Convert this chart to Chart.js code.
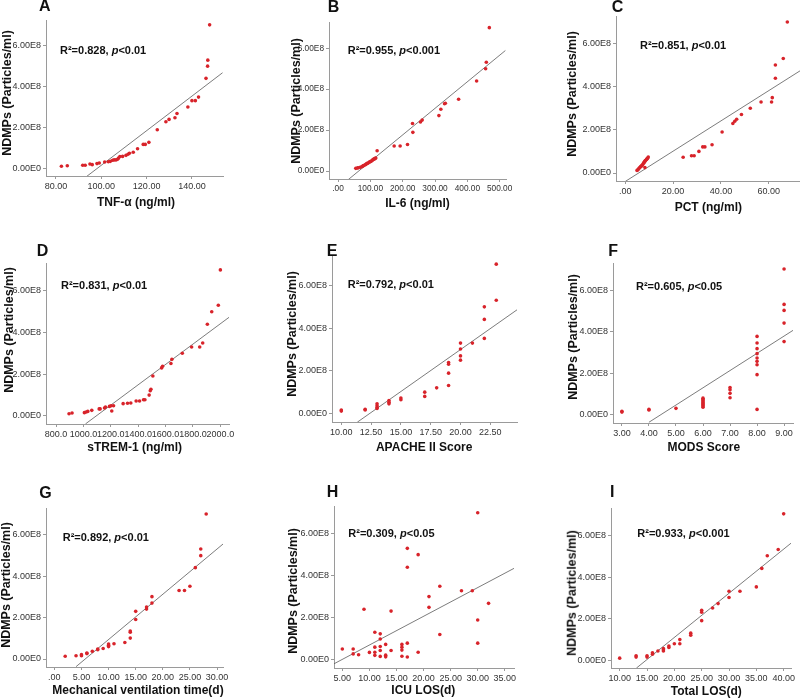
<!DOCTYPE html>
<html><head><meta charset="utf-8">
<script src="https://cdn.jsdelivr.net/npm/chart.js@4.4.1/dist/chart.umd.min.js"></script>
<style>
html,body{margin:0;padding:0;background:#fff;width:800px;height:700px;overflow:hidden;position:relative;font-family:"Liberation Sans",Arial,sans-serif;}
canvas{position:absolute;}
.t{position:absolute;white-space:nowrap;color:#111;font-weight:bold;line-height:1;z-index:5;}
.letter{font-size:16px;transform:translateY(-50%);}
.r2{font-size:11px;transform:translateY(-50%);}
.xt{font-size:12px;transform:translate(-50%,-50%);}
.yt{font-size:12.5px;transform:translate(-50%,-50%) rotate(-90deg);}
</style></head><body>
<script>
// ---------- data (NDMPs in units of 1E8 particles/ml) ----------
const yTicks = [0, 2, 4, 6];
const yTickLabels = ['0.00E0', '2.00E8', '4.00E8', '6.00E8'];

// A: TNF-alpha
const tnfX = [82.4, 85.0, 91.8, 92.9, 95.0, 96.0, 98.1, 99.1, 101.5, 103.1, 104.0, 105.0, 105.7, 106.5, 107.2, 107.6, 108.2, 109.4, 110.9, 111.8, 112.4, 114.1, 116.0, 118.5, 119.4, 121.0, 124.7, 128.5, 129.9, 132.5, 133.4, 138.2, 140.0, 141.5, 142.9, 146.2, 146.9, 147.0, 147.8];
const tnfY = [0.13, 0.16, 0.18, 0.18, 0.24, 0.21, 0.26, 0.29, 0.34, 0.35, 0.37, 0.42, 0.44, 0.44, 0.47, 0.53, 0.60, 0.61, 0.66, 0.71, 0.76, 0.81, 0.98, 1.19, 1.19, 1.29, 1.90, 2.29, 2.40, 2.48, 2.69, 3.00, 3.31, 3.31, 3.48, 4.39, 4.98, 5.27, 6.98];
const tnfLine = [[93.2, -0.39], [153.5, 4.66]];
const tnfTicks = [80, 100, 120, 140];
const tnfTickLabels = ['80.00', '100.00', '120.00', '140.00'];

// B: IL-6
const il6X = [54.8, 59.9, 62.0, 68.2, 73.3, 76.4, 78.5, 80.6, 84.7, 86.0, 88.8, 91.0, 93.0, 97.1, 99.0, 101.2, 105.4, 107.5, 109.5, 111.5, 113.6, 115.0, 116.7, 120.9, 173.6, 192.1, 214.9, 230.4, 231.4, 255.0, 260.3, 312.0, 318.0, 329.5, 332.0, 373.0, 428.7, 456.6, 458.7, 468.0];
const il6Y = [0.13, 0.15, 0.16, 0.18, 0.21, 0.24, 0.26, 0.28, 0.31, 0.33, 0.36, 0.38, 0.39, 0.44, 0.45, 0.47, 0.51, 0.55, 0.57, 0.59, 0.60, 0.62, 0.64, 0.99, 1.22, 1.22, 1.30, 2.32, 1.89, 2.40, 2.49, 2.71, 3.02, 3.29, 3.31, 3.51, 4.40, 5.00, 5.32, 7.01];
const il6Line = [[30, -0.44], [517.6, 5.89]];
const il6Ticks = [0, 100, 200, 300, 400, 500];
const il6TickLabels = ['.00', '100.00', '200.00', '300.00', '400.00', '500.00'];

// C: PCT
const pctX = [4.9, 5.3, 5.6, 5.9, 6.3, 6.5, 6.7, 7.0, 7.1, 7.4, 7.7, 7.8, 8.1, 8.2, 8.3, 8.5, 8.9, 9.1, 9.3, 9.6, 24.2, 27.7, 28.8, 30.8, 32.4, 33.3, 36.3, 40.5, 45.0, 45.8, 46.6, 48.6, 52.3, 56.8, 61.2, 61.5, 62.8, 62.8, 66.1, 67.8];
const pctY = [0.12, 0.15, 0.20, 0.24, 0.28, 0.30, 0.32, 0.35, 0.37, 0.42, 0.46, 0.48, 0.53, 0.25, 0.56, 0.59, 0.63, 0.66, 0.68, 0.74, 0.73, 0.80, 0.80, 1.00, 1.21, 1.21, 1.31, 1.90, 2.29, 2.40, 2.49, 2.71, 3.00, 3.29, 3.29, 3.49, 4.39, 5.00, 5.30, 6.99];
const pctLine = [[0, -0.39], [73.1, 4.73]];
const pctTicks = [0, 20, 40, 60];
const pctTickLabels = ['.00', '20.00', '40.00', '60.00'];

// D: sTREM-1
const stremX = [895, 917, 1007, 1020, 1032, 1061, 1115, 1122, 1154, 1161, 1190, 1202, 1207, 1220, 1290, 1322, 1346, 1385, 1410, 1439, 1449, 1480, 1488, 1493, 1507, 1571, 1578, 1639, 1646, 1722, 1790, 1849, 1871, 1905, 1937, 1985, 2000];
const stremY = [0.11, 0.14, 0.16, 0.19, 0.22, 0.27, 0.34, 0.34, 0.38, 0.43, 0.46, 0.49, 0.24, 0.49, 0.59, 0.61, 0.62, 0.72, 0.72, 0.78, 0.78, 1.00, 1.21, 1.28, 1.91, 2.30, 2.38, 2.51, 2.71, 3.00, 3.30, 3.30, 3.49, 4.39, 4.99, 5.30, 6.99];
const stremLine = [[1015, -0.38], [2063, 4.72]];
const stremTicks = [800, 1000, 1200, 1400, 1600, 1800, 2000];
const stremTickLabels = ['800.0', '1000.0', '1200.0', '1400.0', '1600.0', '1800.0', '2000.0'];

// E: APACHE II
const apacheX = [10, 10, 12, 12, 13, 13, 13, 13, 14, 14, 14, 15, 15, 17, 17, 18, 19, 19, 19, 19, 20, 20, 20, 20, 21, 22, 22, 22, 23, 23];
const apacheY = [0.16, 0.11, 0.20, 0.16, 0.45, 0.36, 0.28, 0.23, 0.61, 0.53, 0.45, 0.72, 0.64, 1.00, 0.80, 1.20, 2.39, 2.31, 1.89, 1.31, 3.30, 3.02, 2.70, 2.50, 3.30, 5.00, 4.41, 3.52, 5.31, 7.00];
const apacheLine = [[11.34, -0.41], [24.74, 4.86]];
const apacheTicks = [10, 12.5, 15, 17.5, 20, 22.5];
const apacheTickLabels = ['10.00', '12.50', '15.00', '17.50', '20.00', '22.50'];

// F: MODS
const modsX = [3, 3, 4, 4, 5, 6, 6, 6, 6, 6, 6, 6, 6, 6, 7, 7, 7, 7, 8, 8, 8, 8, 8, 8, 8, 8, 8, 9, 9, 9, 9, 9];
const modsY = [0.18, 0.14, 0.27, 0.24, 0.32, 0.37, 0.43, 0.48, 0.53, 0.58, 0.63, 0.69, 0.75, 0.81, 1.32, 1.22, 1.04, 0.83, 3.78, 3.46, 3.19, 2.95, 2.74, 2.58, 2.42, 1.94, 0.27, 7.02, 5.32, 5.03, 4.42, 3.53];
const modsLine = [[4.0, -0.35], [9.33, 4.07]];
const modsTicks = [3, 4, 5, 6, 7, 8, 9];
const modsTickLabels = ['3.00', '4.00', '5.00', '6.00', '7.00', '8.00', '9.00'];

// G: Mechanical ventilation time
const mvX = [2, 4, 5, 5, 6, 6, 7, 8, 8, 9, 10, 10, 10, 11, 13, 14, 14, 14, 15, 15, 17, 17, 18, 18, 23, 24, 25, 26, 27, 27, 28];
const mvY = [0.13, 0.16, 0.21, 0.16, 0.26, 0.29, 0.37, 0.48, 0.45, 0.51, 0.66, 0.72, 0.60, 0.74, 0.80, 1.01, 1.29, 1.35, 1.91, 2.30, 2.41, 2.51, 2.70, 3.01, 3.31, 3.31, 3.51, 4.41, 4.99, 5.31, 7.00];
const mvLine = [[4.0, -0.37], [31.1, 5.55]];
const mvTicks = [0, 5, 10, 15, 20, 25, 30];
const mvTickLabels = ['.00', '5.00', '10.00', '15.00', '20.00', '25.00', '30.00'];

// H: ICU LOS
const icuX = [5, 7, 7, 8, 9, 10, 11, 11, 11, 11, 12, 12, 12, 12, 12, 13, 13, 13, 14, 14, 16, 16, 16, 16, 17, 17, 17, 17, 19, 19, 21, 21, 23, 23, 27, 29, 30, 30, 30, 32];
const icuY = [0.51, 0.51, 0.28, 0.24, 2.40, 0.35, 1.31, 0.60, 0.36, 0.21, 1.23, 0.99, 0.63, 0.44, 0.16, 0.73, 0.22, 0.14, 2.31, 0.44, 0.73, 0.60, 0.46, 0.17, 5.29, 4.39, 0.79, 0.13, 4.99, 0.36, 3.00, 2.49, 3.49, 1.20, 3.28, 3.28, 6.98, 1.89, 0.79, 2.68];
const icuLine = [[3.46, -0.19], [36.7, 4.34]];
const icuTicks = [5, 10, 15, 20, 25, 30, 35];
const icuTickLabels = ['5.00', '10.00', '15.00', '20.00', '25.00', '30.00', '35.00'];

// I: Total LOS
const losX = [10, 13, 13, 15, 15, 16, 16, 17, 18, 18, 18, 19, 19, 20, 21, 21, 23, 23, 25, 25, 25, 27, 28, 30, 30, 32, 35, 36, 37, 39, 40];
const losY = [0.11, 0.22, 0.16, 0.22, 0.16, 0.37, 0.30, 0.45, 0.57, 0.51, 0.45, 0.69, 0.62, 0.80, 1.00, 0.80, 1.31, 1.21, 2.41, 2.31, 1.91, 2.52, 2.73, 3.32, 3.02, 3.32, 3.53, 4.42, 5.03, 5.33, 7.04];
const losLine = [[13.05, -0.37], [41.34, 5.63]];
const losTicks = [10, 15, 20, 25, 30, 35, 40];
const losTickLabels = ['10.00', '15.00', '20.00', '25.00', '30.00', '35.00', '40.00'];

const yTitle = 'NDMPs (Particles/ml)';

// ---------- layout ----------
const FONT = '"Liberation Sans", Arial, sans-serif';
Chart.defaults.font.family = FONT;

const panels = [
  {k:'A', xs:tnfX, ys:tnfY, ln:tnfLine, tk:tnfTicks, tl:tnfTickLabels, xr:[75.6,153.7], yr:[-0.34,7.215], box:[46,20,223,176], fs:9, let:[39,6], r2:[60,50], r2t:'R²=0.828', p:'<0.01', xTitle:'TNF-α (ng/ml)', xtp:[136,202], ytp:[7,92.5]},
  {k:'B', xs:il6X, ys:il6Y, ln:il6Line, tk:il6Ticks, tl:il6TickLabels, xr:[-28,519.6], yr:[-0.39,7.286], box:[329,22,506,179], fs:8.3, let:[327.7,7.2], r2:[347.7,49.5], r2t:'R²=0.955', p:'<0.001', xTitle:'IL-6 (ng/ml)', xtp:[417.5,203.3], ytp:[295.5,101]},
  {k:'C', xs:pctX, ys:pctY, ln:pctLine, tk:pctTicks, tl:pctTickLabels, xr:[-3.9,73.1], yr:[-0.37,7.27], box:[616,16,800,181], fs:9, let:[611.7,7], r2:[640,45.3], r2t:'R²=0.851', p:'<0.01', xTitle:'PCT (ng/ml)', xtp:[708.3,206.7], ytp:[571.7,94]},
  {k:'D', xs:stremX, ys:stremY, ln:stremLine, tk:stremTicks, tl:stremTickLabels, xr:[726.8,2063], yr:[-0.383,7.32], box:[46,263,229,424], fs:9, let:[36.7,250.8], r2:[61,284.7], r2t:'R²=0.831', p:'<0.01', xTitle:'sTREM-1 (ng/ml)', xtp:[134.7,446.7], ytp:[9.3,330]},
  {k:'E', xs:apacheX, ys:apacheY, ln:apacheLine, tk:apacheTicks, tl:apacheTickLabels, xr:[9.22,24.74], yr:[-0.40,7.43], box:[332,255,517,422], fs:9, let:[326.7,250.8], r2:[347.7,284.2], r2t:'R²=0.792', p:'<0.01', xTitle:'APACHE II Score', xtp:[424.2,447.3], ytp:[291.7,334]},
  {k:'F', xs:modsX, ys:modsY, ln:modsLine, tk:modsTicks, tl:modsTickLabels, xr:[2.67,9.33], yr:[-0.385,7.31], box:[613,263,793,423], fs:9, let:[608.3,250.8], r2:[636,286.2], r2t:'R²=0.605', p:'<0.05', xTitle:'MODS Score', xtp:[703.8,447.3], ytp:[573.3,336.7]},
  {k:'G', xs:mvX, ys:mvY, ln:mvLine, tk:mvTicks, tl:mvTickLabels, xr:[-1.54,31.1], yr:[-0.386,7.29], box:[46,508,223,667], fs:9, let:[39.3,492.5], r2:[62.7,536.7], r2t:'R²=0.892', p:'<0.01', xTitle:'Mechanical ventilation time(d)', xtp:[138,690], ytp:[6,585]},
  {k:'H', xs:icuX, ys:icuY, ln:icuLine, tk:icuTicks, tl:icuTickLabels, xr:[3.46,36.7], yr:[-0.39,7.30], box:[334,506,514,668], fs:9, let:[326.7,492.2], r2:[348.3,532.8], r2t:'R²=0.309', p:'<0.05', xTitle:'ICU LOS(d)', xtp:[423.3,690], ytp:[293.3,591]},
  {k:'I', xs:losX, ys:losY, ln:losLine, tk:losTicks, tl:losTickLabels, xr:[8.41,41.34], yr:[-0.364,7.32], box:[611,508,791,668], fs:9, let:[610,491.7], r2:[637.3,532.8], r2t:'R²=0.933', p:'<0.001', xTitle:'Total LOS(d)', xtp:[706.3,691], ytp:[571.7,592.5]}
];

const YW = 40, XH = 20, PT = 8, PR = 20;

function addText(cls, html, x, y) {
  const d = document.createElement('div');
  d.className = 't ' + cls;
  d.innerHTML = html;
  d.style.left = x + 'px';
  d.style.top = y + 'px';
  document.body.appendChild(d);
}

panels.forEach(pn => {
  const [L, T, R, B] = pn.box;
  const cv = document.createElement('canvas');
  const left = L - YW, top = T - PT;
  const w = R + PR - left, h = B + XH - top;
  cv.width = w; cv.height = h;
  cv.style.left = left + 'px'; cv.style.top = top + 'px';
  cv.style.width = w + 'px'; cv.style.height = h + 'px';
  document.body.appendChild(cv);

  const pts = pn.xs.map((x, i) => ({x: x, y: pn.ys[i]}));
  const linePts = pn.ln.map(p => ({x: p[0], y: p[1]}));
  const tickFont = {size: pn.fs, family: FONT};
  const axisCommon = {
    grid: {display: true, drawOnChartArea: false, drawTicks: true, tickLength: 3, color: '#9a9a9a', lineWidth: 1},
    border: {display: true, color: '#9a9a9a', width: 1}
  };
  new Chart(cv, {
    type: 'scatter',
    data: {datasets: [
      {data: pts, backgroundColor: '#d8232a', borderColor: '#d8232a', pointRadius: 1.8, borderWidth: 0, order: 1},
      {data: linePts, showLine: true, pointRadius: 0, borderColor: '#5a5a5a', borderWidth: 0.8, fill: false, order: 2}
    ]},
    options: {
      animation: false, responsive: false, devicePixelRatio: 1, events: [],
      layout: {padding: {top: PT, right: PR, bottom: 0, left: 0}},
      plugins: {legend: {display: false}, tooltip: {enabled: false}, title: {display: false}},
      scales: {
        x: Object.assign({
          type: 'linear', position: 'bottom', min: pn.xr[0], max: pn.xr[1],
          afterBuildTicks: s => { s.ticks = pn.tk.map(v => ({value: v})); },
          afterFit: s => { s.height = XH; },
          ticks: {font: tickFont, color: '#333', padding: 2, maxRotation: 0, autoSkip: false,
            callback: v => { const i = pn.tk.indexOf(v); return i >= 0 ? pn.tl[i] : ''; }}
        }, axisCommon),
        y: Object.assign({
          type: 'linear', position: 'left', min: pn.yr[0], max: pn.yr[1],
          afterBuildTicks: s => { s.ticks = yTicks.map(v => ({value: v})); },
          afterFit: s => { s.width = YW; },
          ticks: {font: tickFont, color: '#333', padding: 2, autoSkip: false,
            callback: v => { const i = yTicks.indexOf(v); return i >= 0 ? yTickLabels[i] : ''; }}
        }, axisCommon)
      }
    }
  });

  addText('letter', pn.k, pn.let[0], pn.let[1]);
  addText('r2', pn.r2t + ', <i>p</i>' + pn.p, pn.r2[0], pn.r2[1]);
  addText('xt', pn.xTitle, pn.xtp[0], pn.xtp[1]);
  addText('yt', yTitle, pn.ytp[0], pn.ytp[1]);
});
</script>
</body></html>
